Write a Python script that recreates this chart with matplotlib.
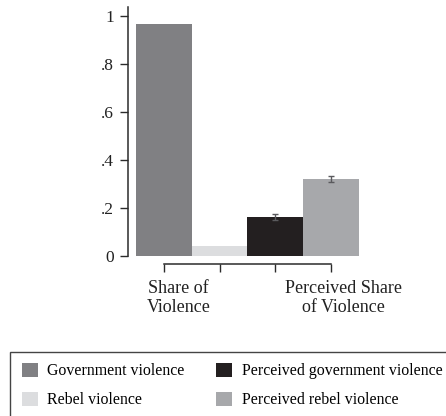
import matplotlib
matplotlib.use("Agg")
import matplotlib.pyplot as plt
from matplotlib.patches import Rectangle

# shares of violence, observed and perceived
series = ["Government violence", "Rebel violence",
          "Perceived government violence", "Perceived rebel violence"]
shares = [0.967, 0.042, 0.163, 0.322]
share_err = [0.0, 0.0, 0.014, 0.012]
group_labels = ["Share of\nViolence", "Perceived Share\nof Violence"]
y_ticks = [0, 0.2, 0.4, 0.6, 0.8, 1.0]
y_tick_labels = ["0", ".2", ".4", ".6", ".8", "1"]

colors = ["#808083", "#dcdddf", "#231f20", "#a7a8ab"]
axis_color = "#2b2b2b"

plt.rcParams["font.family"] = ["Liberation Serif", "DejaVu Serif"]

fig = plt.figure(figsize=(4.46, 4.16), dpi=100)
W, H = 446, 416
ax = fig.add_axes([127.7 / W, 160 / H, (370 - 127.7) / W, 249 / H])

x = list(range(len(shares)))
bars = ax.bar(x, shares, width=1.0, color=colors, linewidth=0)
for xi, v, e in zip(x, shares, share_err):
    if e > 0:
        ax.errorbar(xi, v, yerr=e, color="#5a5a5d", elinewidth=1.0,
                    capsize=2.5, capthick=1.0)

ax.set_xlim(-0.649, 3.70)
ax.set_ylim(0, 1.0375)

for side in ["top", "right"]:
    ax.spines[side].set_visible(False)
ax.spines["left"].set_color(axis_color)
ax.spines["left"].set_linewidth(1.1)
ax.spines["bottom"].set_color(axis_color)
ax.spines["bottom"].set_linewidth(1.1)
ax.spines["bottom"].set_position(("outward", 6))
ax.spines["bottom"].set_bounds(0, 3)

ax.set_yticks(y_ticks)
ax.set_yticklabels(y_tick_labels, fontsize=12.5, color="#222222")
ax.tick_params(axis="y", length=6, width=1.0, color=axis_color, pad=4)

ax.set_xticks([0, 1, 2, 3])
ax.set_xticklabels([])
ax.tick_params(axis="x", which="major", length=5.5, width=1.0,
               color=axis_color, direction="out")
ax.set_xticks([0.26, 3.23], minor=True)
ax.set_xticklabels(group_labels, minor=True, fontsize=13,
                   color="#222222", linespacing=1.2)
ax.tick_params(axis="x", which="minor", length=0, pad=11)

# legend below, with a frame running off the page
fig.legend(bars, series, ncol=2, loc="upper left",
           bbox_to_anchor=(22 / W, 1 - 363 / H), frameon=False,
           fontsize=11.4, handlelength=1.0, handleheight=0.95,
           handletextpad=0.6, columnspacing=2.0, labelspacing=0.8,
           borderpad=0, borderaxespad=0)
fig.patches.append(Rectangle((10 / W, -0.1), 1.0, (416 - 352) / H + 0.1,
                             transform=fig.transFigure, fill=False,
                             edgecolor="#444444", linewidth=1.0))

fig.savefig("out.png", dpi=100)
